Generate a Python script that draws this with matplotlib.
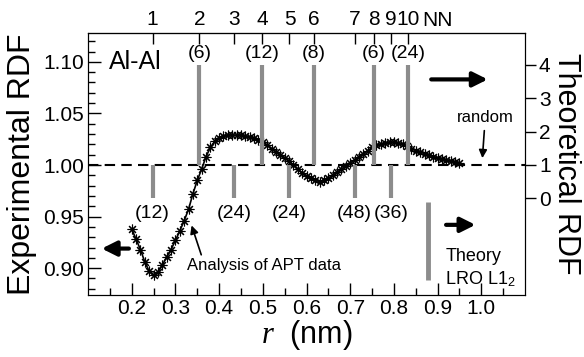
import matplotlib.pyplot as plt
import numpy as np

plt.rcParams['font.family'] = ['Liberation Sans', 'DejaVu Sans']
plt.rcParams['mathtext.fontset'] = 'custom'
plt.rcParams['mathtext.rm'] = 'Liberation Sans'
plt.rcParams['mathtext.it'] = 'Liberation Serif:italic'

# experimental RDF (APT analysis)
r_exp = [0.20, 0.21, 0.22, 0.23, 0.24, 0.25, 0.26, 0.27, 0.28, 0.29,
         0.30, 0.31, 0.32, 0.33, 0.34, 0.35, 0.36, 0.37, 0.38, 0.39,
         0.40, 0.41, 0.42, 0.43, 0.44, 0.45, 0.46, 0.47, 0.48, 0.49,
         0.50, 0.51, 0.52, 0.53, 0.54, 0.55, 0.56, 0.57, 0.58, 0.59,
         0.60, 0.61, 0.62, 0.63, 0.64, 0.65, 0.66, 0.67, 0.68, 0.69,
         0.70, 0.71, 0.72, 0.73, 0.74, 0.75, 0.76, 0.77, 0.78, 0.79,
         0.80, 0.81, 0.82, 0.83, 0.84, 0.85, 0.86, 0.87, 0.88, 0.89,
         0.90, 0.91, 0.92, 0.93, 0.94, 0.95]
rdf_exp = [0.938, 0.928, 0.918, 0.906, 0.897, 0.893, 0.896, 0.903, 0.911, 0.918,
           0.927, 0.936, 0.946, 0.957, 0.972, 0.985, 0.996, 1.008, 1.017, 1.023,
           1.026, 1.028, 1.029, 1.029, 1.029, 1.029, 1.028, 1.027, 1.026, 1.024,
           1.022, 1.019, 1.016, 1.013, 1.010, 1.007, 1.004, 1.000, 0.996, 0.992,
           0.989, 0.987, 0.985, 0.984, 0.985, 0.987, 0.990, 0.993, 0.996, 0.999,
           1.002, 1.005, 1.008, 1.011, 1.014, 1.017, 1.019, 1.020, 1.021, 1.022,
           1.022, 1.021, 1.020, 1.018, 1.016, 1.014, 1.013, 1.011, 1.010, 1.008,
           1.007, 1.006, 1.005, 1.004, 1.003, 1.002]

# nearest-neighbour shells and theoretical RDF (LRO L1_2)
nn_r = [0.248, 0.355, 0.435, 0.499, 0.561, 0.616, 0.710, 0.755, 0.794, 0.833]
nn_labels = ['1', '2', '3', '4', '5', '6', '7', '8', '9', '10']
theory = [0, 4, 0, 4, 0, 4, 0, 4, 0, 4]
coord = ['(12)', '(6)', '(24)', '(12)', '(24)', '(8)', '(48)', '(6)', '(36)', '(24)']

fig = plt.figure(figsize=(5.84, 3.57), dpi=100)
ax = fig.add_axes([0.1507, 0.1737, 0.7483, 0.7339])
ax2 = ax.twinx()

ax.set_xlim(0.1, 1.1)
ax.set_ylim(0.874, 1.128)
ax2.set_ylim(-2.9, 4.96)

# theoretical bars
grey = '#8c8c8c'
for x, t, c in zip(nn_r, theory, coord):
    ax2.vlines(x, 1, t, color=grey, lw=3)
    if t > 1:
        ax2.text(x, t + 0.35, c, ha='center', va='center', fontsize=14)
    else:
        ax2.text(x, t - 0.45, c, ha='center', va='center', fontsize=14)

# random level
ax.axhline(1.0, color='k', ls=(0, (5, 3)), lw=1.5)

# experimental curve
ax.plot(r_exp, rdf_exp, color='k', lw=1.2, marker=(8, 2, 0), ms=7, mew=0.8)

# ticks
ax.set_xticks([0.2, 0.3, 0.4, 0.5, 0.6, 0.7, 0.8, 0.9, 1.0])
ax.set_xticks(np.array([0.15, 0.25, 0.35, 0.45, 0.55, 0.65, 0.75, 0.85, 0.95, 1.05]), minor=True)
ax.set_yticks([0.90, 0.95, 1.00, 1.05, 1.10])
ax.set_yticks([0.88, 0.89, 0.91, 0.92, 0.93, 0.94, 0.96, 0.97, 0.98, 0.99,
               1.01, 1.02, 1.03, 1.04, 1.06, 1.07, 1.08, 1.09, 1.11, 1.12], minor=True)
ax.tick_params(which='major', direction='in', length=9, width=1, labelsize=15, pad=3)
ax.tick_params(which='minor', direction='in', length=5, width=1)
ax2.set_yticks([0, 1, 2, 3, 4])
ax2.tick_params(direction='out', length=8, width=1, labelsize=15, pad=2)

top = ax.secondary_xaxis('top')
top.set_xticks(nn_r, labels=nn_labels)
top.tick_params(direction='in', length=8, width=1, labelsize=15, pad=3)
ax.text(0.90, 1.01, 'NN', transform=ax.get_xaxis_transform(), ha='center', va='bottom',
        fontsize=15)

ax.set_ylabel('Experimental RDF', fontsize=23, labelpad=4)
ax2.set_ylabel('Theoretical RDF', fontsize=22, rotation=270, labelpad=22)
ax.set_xlabel('$\\mathit{r}$  (nm)', fontsize=22, labelpad=0)

# annotations
ax.text(0.147, 1.100, 'Al-Al', ha='left', va='center', fontsize=18)
ax.annotate('', xy=(1.021, 1.083), xytext=(0.879, 1.083),
            arrowprops=dict(arrowstyle='-|>', lw=3, mutation_scale=22, color='k'))
ax.annotate('', xy=(0.125, 0.919), xytext=(0.2, 0.919),
            arrowprops=dict(arrowstyle='-|>', lw=3, mutation_scale=22, color='k'))
ax.annotate('', xy=(0.993, 0.942), xytext=(0.913, 0.942),
            arrowprops=dict(arrowstyle='-|>', lw=3, mutation_scale=22, color='k'))
ax.annotate('random', xy=(1.002, 1.004), xytext=(1.009, 1.046), ha='center', va='center',
            fontsize=12, arrowprops=dict(arrowstyle='-|>', lw=1.2, color='k'))
ax.annotate('Analysis of APT data', xy=(0.335, 0.944), xytext=(0.326, 0.903),
            ha='left', va='center', fontsize=12,
            arrowprops=dict(arrowstyle='-|>', lw=1.2, color='k', shrinkA=0,
                            relpos=(0.1, 1.0)))

# theory legend
ax2.vlines(0.879, -2.45, -0.1, color=grey, lw=3.5)
ax.text(0.918, 0.911, 'Theory', ha='left', va='center', fontsize=13)
ax.text(0.918, 0.889, 'LRO L1$_2$', ha='left', va='center', fontsize=13)

fig.savefig('out.png', dpi=100)
